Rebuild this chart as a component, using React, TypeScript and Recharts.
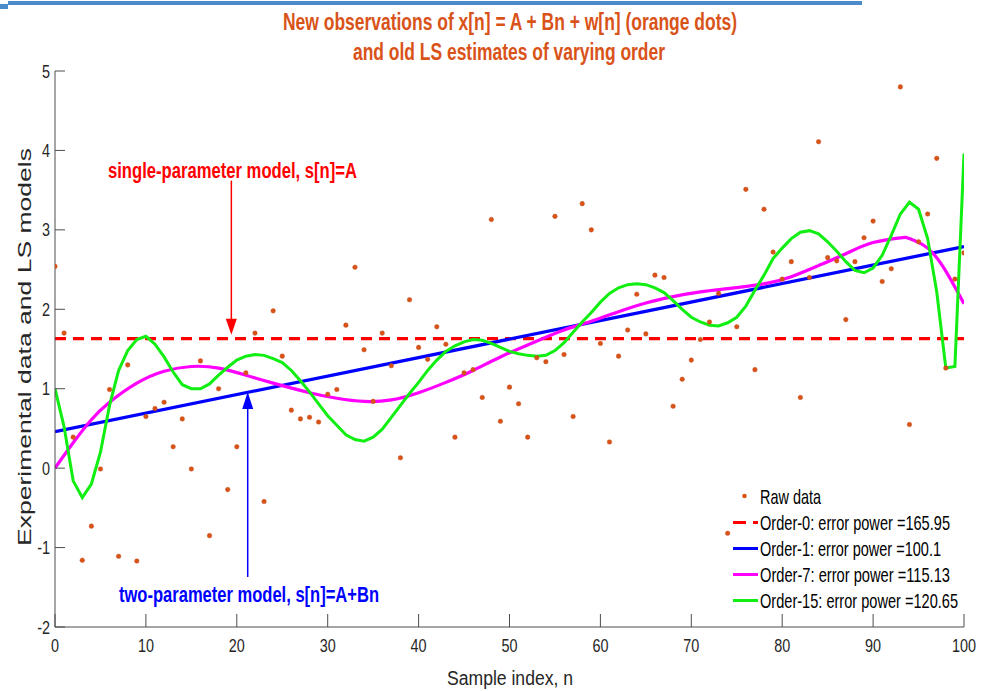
import React from 'react';
import { ComposedChart, Line, Scatter, XAxis, YAxis, ReferenceLine, ReferenceDot } from 'recharts';

const nIndex = [0,1,2,3,4,5,6,7,8,9,10,11,12,13,14,15,16,17,18,19,20,21,22,23,24,25,26,27,28,29,30,31,32,33,34,35,36,37,38,39,40,41,42,43,44,45,46,47,48,49,50,51,52,53,54,55,56,57,58,59,60,61,62,63,64,65,66,67,68,69,70,71,72,73,74,75,76,77,78,79,80,81,82,83,84,85,86,87,88,89,90,91,92,93,94,95,96,97,98,99,100];

const rawValues = [2.54,1.70,0.39,-1.16,-0.73,-0.01,0.99,-1.11,1.30,-1.17,0.65,0.75,0.83,0.27,0.62,-0.01,1.35,-0.85,1.00,-0.27,0.27,1.20,1.70,-0.42,1.98,1.41,0.73,0.62,0.64,0.58,0.93,0.99,1.80,2.53,1.49,0.84,1.70,1.29,0.13,2.12,1.52,1.37,1.78,1.56,0.39,1.20,1.24,0.89,3.13,0.59,1.02,0.81,0.39,1.39,1.34,3.17,1.43,0.65,3.33,3.00,1.57,0.33,1.41,1.74,2.19,1.69,2.43,2.40,0.78,1.12,1.36,1.62,1.84,2.20,-0.82,1.78,3.51,1.24,3.26,2.72,2.38,2.60,0.89,2.40,4.11,2.65,2.61,1.87,2.60,2.90,3.11,2.35,2.51,4.80,0.55,2.85,3.20,3.90,1.26,2.38,2.71];

const order15Values = [1.00,0.52,-0.16,-0.37,-0.20,0.20,0.79,1.23,1.48,1.62,1.66,1.56,1.40,1.21,1.05,1.00,1.00,1.06,1.17,1.27,1.36,1.41,1.43,1.42,1.38,1.33,1.23,1.10,0.96,0.81,0.66,0.54,0.42,0.36,0.34,0.39,0.49,0.64,0.79,0.94,1.08,1.23,1.36,1.47,1.54,1.59,1.62,1.61,1.57,1.52,1.47,1.44,1.42,1.41,1.42,1.48,1.58,1.71,1.84,1.96,2.09,2.20,2.27,2.31,2.32,2.31,2.27,2.21,2.11,2.00,1.90,1.84,1.80,1.79,1.83,1.90,2.04,2.24,2.43,2.64,2.77,2.89,2.97,2.99,2.95,2.85,2.73,2.60,2.49,2.46,2.52,2.68,2.93,3.20,3.35,3.26,2.89,2.22,1.26,1.28,3.96];

const order7N = [0,2,4,6,9,12,15,18,21,24,28,31,34,37,40,43,46,49,53,56,59,62,65,68,71,74,78,81,84,87,90,93,94,96,98,100];
const order7Values = [0.00,0.32,0.61,0.83,1.07,1.22,1.28,1.26,1.17,1.07,0.95,0.88,0.84,0.86,0.95,1.08,1.23,1.40,1.60,1.74,1.85,1.97,2.08,2.16,2.22,2.26,2.32,2.41,2.55,2.70,2.84,2.90,2.89,2.77,2.48,2.07];

const order1N = [0, 100];
const order1Values = [0.46, 2.79];
const order0N = [0, 100];
const order0Values = [1.63, 1.63];

const xTicks = [0,10,20,30,40,50,60,70,80,90,100];
const yTicks = [-2,-1,0,1,2,3,4,5];

const legendLabels = [
  'Raw data',
  'Order-0: error power =165.95',
  'Order-1: error power =100.1',
  'Order-7: error power =115.13',
  'Order-15: error power =120.65',
];

const titleLines = [
  'New observations of x[n] = A + Bn + w[n] (orange dots)',
  'and old LS estimates of varying order',
];

const rawData = nIndex.map((n, i) => ({ n, v: rawValues[i] }));
const order15Data = nIndex.map((n, i) => ({ n, v: order15Values[i] }));
const order7Data = order7N.map((n, i) => ({ n, v: order7Values[i] }));
const order1Data = order1N.map((n, i) => ({ n, v: order1Values[i] }));
const order0Data = order0N.map((n, i) => ({ n, v: order0Values[i] }));

const FONT = '"Liberation Sans", Arial, Helvetica, sans-serif';
const AXIS = '#4d4d4d';
const TXT = '#262626';
const ORANGE = '#D95319';

const XTick = (props: any) => {
  const { x, y, payload } = props;
  return (
    <g>
      <line x1={x} x2={x} y1={y} y2={y - 13} stroke={AXIS} strokeWidth={1} />
      <text transform={`translate(${x},${y + 24.5}) scale(0.8,1)`} textAnchor="middle" fontFamily={FONT} fontSize={18} fill={TXT}>
        {payload.value}
      </text>
    </g>
  );
};

const YTick = (props: any) => {
  const { x, y, payload } = props;
  return (
    <g>
      <line x1={x} x2={x + 10} y1={y} y2={y} stroke={AXIS} strokeWidth={1} />
      <text transform={`translate(${x - 5},${y + 6.5}) scale(0.8,1)`} textAnchor="end" fontFamily={FONT} fontSize={18} fill={TXT}>
        {payload.value}
      </text>
    </g>
  );
};

const dotShape = (p: any) => <circle cx={p.cx} cy={p.cy} r={2.3} fill={ORANGE} stroke="#c24a14" strokeWidth={0.4} />;

const downHead = (p: any) => (
  <polygon points={`${p.cx},${p.cy} ${p.cx - 5.5},${p.cy - 16} ${p.cx + 5.5},${p.cy - 16}`} fill="#ff0000" />
);
const upHead = (p: any) => (
  <polygon points={`${p.cx},${p.cy} ${p.cx - 5.5},${p.cy + 17} ${p.cx + 5.5},${p.cy + 17}`} fill="#0000ff" />
);

const SX = 0.73;

export default function App() {
  const legendY = [503.5, 530, 556, 582, 608];
  const legendLen = [61, 190, 181, 190, 198];
  const legendColors = ['', '#ff0000', '#0000ff', '#ff00ff', '#11ee11'];
  return (
    <div style={{ position: 'absolute', left: 0, top: 0, width: 990, height: 691, background: '#fff', overflow: 'hidden' }}>
      <div style={{ position: 'absolute', left: 8, top: 1, width: 854, height: 4, background: '#4B8BC9' }} />
      <div style={{ position: 'absolute', left: 0, top: 4, width: 8, height: 5, background: '#4B8BC9' }} />
      <ComposedChart width={990} height={691} margin={{ top: 71, right: 26, bottom: 63, left: 54 }}>
        <XAxis
          type="number"
          dataKey="n"
          domain={[0, 100]}
          ticks={xTicks}
          interval={0}
          height={1}
          tickSize={0}
          tickMargin={0}
          tickLine={false}
          axisLine={{ stroke: AXIS, strokeWidth: 1 }}
          tick={<XTick />}
          allowDataOverflow
        />
        <YAxis
          type="number"
          domain={[-2, 5]}
          ticks={yTicks}
          interval={0}
          width={1}
          tickSize={0}
          tickMargin={0}
          tickLine={false}
          axisLine={{ stroke: AXIS, strokeWidth: 1 }}
          tick={<YTick />}
          allowDataOverflow
        />
        <Scatter data={rawData} dataKey="v" shape={dotShape} isAnimationActive={false} />
        <Line data={order0Data} dataKey="v" type="linear" stroke="#ff0000" strokeWidth={3.2} strokeDasharray="11 7" dot={false} activeDot={false} isAnimationActive={false} />
        <Line data={order1Data} dataKey="v" type="linear" stroke="#0000ff" strokeWidth={3.3} dot={false} activeDot={false} isAnimationActive={false} />
        <Line data={order7Data} dataKey="v" type="natural" stroke="#ff00ff" strokeWidth={3.2} dot={false} activeDot={false} isAnimationActive={false} />
        <Line data={order15Data} dataKey="v" type="linear" stroke="#11ee11" strokeWidth={3} dot={false} activeDot={false} isAnimationActive={false} />
        <ReferenceLine segment={[{ x: 19.4, y: 3.62 }, { x: 19.4, y: 1.72 }]} stroke="#ff0000" strokeWidth={1.5} />
        <ReferenceDot x={19.4} y={1.68} r={0} shape={downHead} />
        <ReferenceLine segment={[{ x: 21.2, y: -1.37 }, { x: 21.2, y: 0.92 }]} stroke="#0000ff" strokeWidth={1.5} />
        <ReferenceDot x={21.2} y={0.96} r={0} shape={upHead} />
      </ComposedChart>
      <svg width={990} height={691} style={{ position: 'absolute', left: 0, top: 0, pointerEvents: 'none' }}>
        <text x={510} y={30} textAnchor="middle" fontFamily={FONT} fontWeight="bold" fontSize={23} fill={ORANGE} textLength={454} lengthAdjust="spacingAndGlyphs">{titleLines[0]}</text>
        <text x={509} y={60} textAnchor="middle" fontFamily={FONT} fontWeight="bold" fontSize={23} fill={ORANGE} textLength={312} lengthAdjust="spacingAndGlyphs">{titleLines[1]}</text>
        <text transform="translate(31,347) rotate(-90)" textAnchor="middle" fontFamily={FONT} fontSize={19} fill={TXT} textLength={398} lengthAdjust="spacingAndGlyphs">Experimental data and LS models</text>
        <text x={510} y={685} textAnchor="middle" fontFamily={FONT} fontSize={20} fill={TXT} textLength={126} lengthAdjust="spacingAndGlyphs">Sample index, n</text>
        <text x={108} y={178} fontFamily={FONT} fontWeight="bold" fontSize={22} fill="#ff0000" textLength={249} lengthAdjust="spacingAndGlyphs">single-parameter model, s[n]=A</text>
        <text x={119} y={602} fontFamily={FONT} fontWeight="bold" fontSize={22} fill="#0000ff" textLength={260} lengthAdjust="spacingAndGlyphs">two-parameter model, s[n]=A+Bn</text>
        {legendLabels.map((lab, i) => (
          <g key={lab}>
            {i === 0 ? (
              <circle cx={744.5} cy={legendY[0] - 7.5} r={2.3} fill={ORANGE} />
            ) : (
              <line x1={733} x2={758} y1={legendY[i] - 7.5} y2={legendY[i] - 7.5} stroke={legendColors[i]} strokeWidth={3} strokeDasharray={i === 1 ? '13 7' : undefined} />
            )}
            <text transform={`translate(760,${legendY[i]}) scale(${SX},1)`} fontFamily={FONT} fontSize={20} fill="#000" textLength={legendLen[i] / SX} lengthAdjust="spacingAndGlyphs">{lab}</text>
          </g>
        ))}
      </svg>
    </div>
  );
}
